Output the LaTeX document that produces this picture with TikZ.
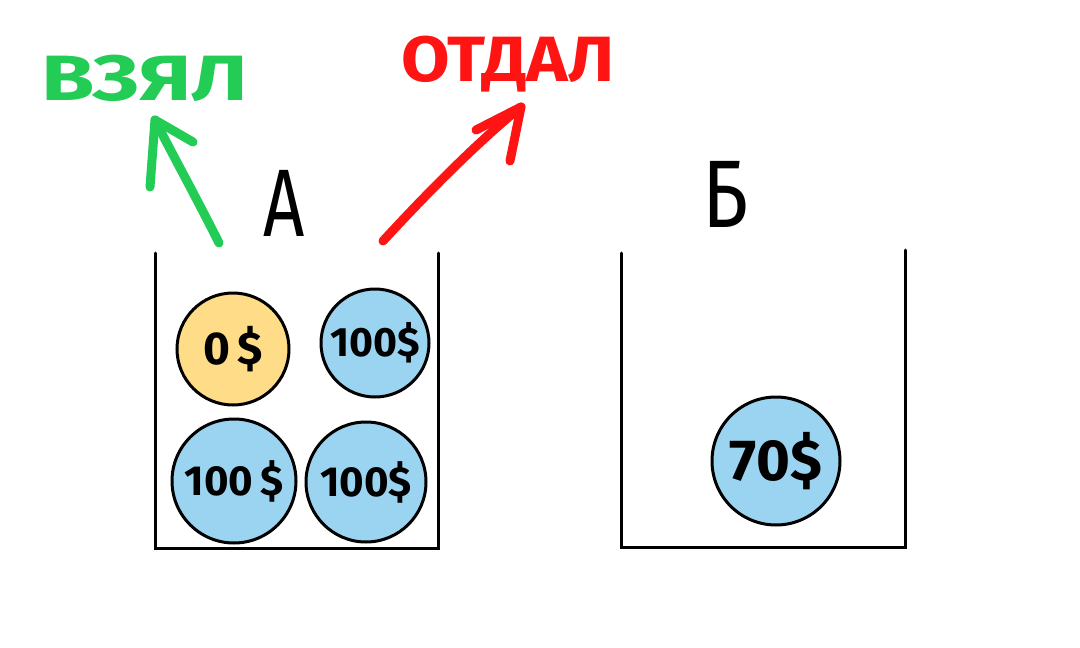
\documentclass[tikz,border=0pt]{standalone}
\usepackage{fontspec}
\usetikzlibrary{calc}
\setmainfont{Fira Sans}
\definecolor{coinblue}{HTML}{9BD4F0}
\definecolor{coinyellow}{HTML}{FFDD88}
\definecolor{hgreen}{HTML}{22CC55}
\definecolor{hred}{HTML}{FF1414}
\begin{document}
\begin{tikzpicture}[x=1pt,y=-1pt,
  wall/.style={line width=3pt,black,line cap=round},
  coin/.style={circle,draw=black,line width=3pt,inner sep=0pt},
  coinfont/.style={font=\fontsize{#1}{#1}\selectfont\bfseries},
  bluecoin/.style={coin,fill=coinblue},
  goldcoin/.style={coin,fill=coinyellow},
  mark line/.style={line width=9pt,line cap=round,line join=round},
  word/.style={font=\fontsize{64}{64}\selectfont\bfseries,inner sep=0pt},
  boxname/.style={font=\fontsize{96}{96}\selectfont\fontseries{l}\selectfont,inner sep=0pt,xscale=0.75}]
\path[fill=white] (0,0) rectangle (1080,648);
\useasboundingbox (0,0) rectangle (1080,648);
% box A
\coordinate (a1) at (155,253);
\coordinate (a2) at (155,548);
\coordinate (a3) at (438,548);
\coordinate (a4) at (438,253);
\draw[wall] (a1) -- (a2) -- (a3) -- (a4);
% box B
\coordinate (b1) at (621,253);
\coordinate (b2) at (621,547);
\coordinate (b3) at (905,547);
\coordinate (b4) at (905,250);
\draw[wall] (b1) -- (b2) -- (b3) -- (b4);
% labels
\node[boxname] (la) at (284,203) {A};
\node[boxname,xscale=1.1] (lb) at (725,194) {Б};
% coins
\node[goldcoin,minimum size=112pt,coinfont=46] (c0) at (233,349) {0\,\$};
\node[bluecoin,minimum size=108pt,coinfont=41] (c1) at (375,343) {100\$};
\node[bluecoin,minimum size=124pt,coinfont=42] (c2) at (234,481) {100\,\$};
\node[bluecoin,minimum size=120pt,coinfont=42] (c3) at (366,482) {100\$};
\node[bluecoin,minimum size=128pt,coinfont=58] (c4) at (776,461) {70\$};
% words
\node[word,text=hgreen,xscale=1.35] (took) at (145,78) {ВЗЯЛ};
\node[word,text=hred,xscale=1.1] (gave) at (508,64) {ОТДАЛ};
% green arrow
\coordinate (gs) at (219,243);
\coordinate (gt) at (155,120);
\draw[mark line,hgreen] (gs) .. controls (195,195) and (170,150) .. (gt);
\draw[mark line,hgreen] ($(gt)+(-5,67)$) -- (gt) -- ($(gt)+(38,22)$);
% red arrow
\coordinate (rs) at (383,241);
\coordinate (rt) at (521,107);
\draw[mark line,hred] (rs) .. controls (430,190) and (480,140) .. (rt);
\draw[mark line,hred] ($(rt)+(-45,23)$) -- (rt) -- ($(rt)+(-11,54)$);
\end{tikzpicture}
\end{document}
